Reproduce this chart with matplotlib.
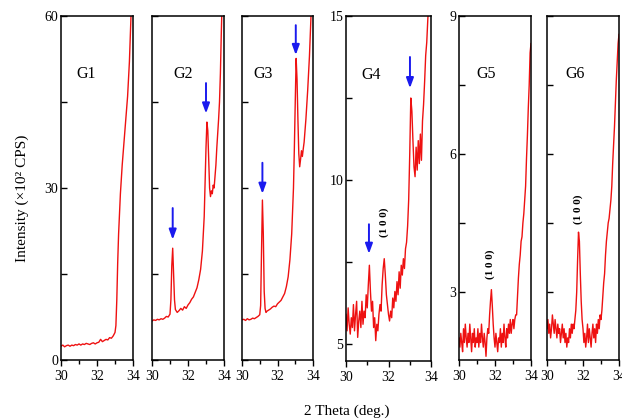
import matplotlib
matplotlib.use("Agg")
import matplotlib.pyplot as plt
from matplotlib.ticker import FixedLocator, NullFormatter

plt.rcParams["font.family"] = ["Liberation Serif", "DejaVu Serif"]
plt.rcParams["font.size"] = 10

RED = "#ee1111"
BLUE = "#1a1aee"

# ---- data (2 theta in deg, intensity in 10^2 CPS) ----
g1_x = [30.0, 30.1, 30.2, 30.3, 30.4, 30.5, 30.6, 30.7, 30.8, 30.9,
        31.0, 31.1, 31.2, 31.3, 31.4, 31.5, 31.6, 31.7, 31.8, 31.9,
        32.0, 32.1, 32.2, 32.3, 32.4, 32.5, 32.6, 32.7, 32.8, 32.9,
        33.0, 33.05, 33.1, 33.15, 33.2, 33.3, 33.4, 33.5, 33.6, 33.7,
        33.8, 33.9, 34.0]
g1_y = [2.4, 2.6, 2.3, 2.5, 2.6, 2.4, 2.6, 2.5, 2.7, 2.6,
        2.8, 2.6, 2.8, 2.7, 2.9, 2.8, 2.7, 2.9, 3.0, 2.8,
        3.0, 3.1, 3.6, 3.2, 3.4, 3.6, 3.5, 3.9, 3.8, 4.2,
        4.8, 6.0, 10.5, 17.0, 22.0, 29.0, 34.0, 38.0, 42.0, 46.0,
        52.0, 61.0, 68.0]

g2_x = [30.0, 30.1, 30.2, 30.3, 30.4, 30.5, 30.6, 30.7, 30.8, 30.9,
        31.0, 31.05, 31.1, 31.15, 31.2, 31.25, 31.3, 31.4, 31.5, 31.6,
        31.7, 31.8, 31.9, 32.0, 32.1, 32.2, 32.3, 32.4, 32.5, 32.6,
        32.7, 32.8, 32.9, 32.95, 33.0, 33.05, 33.1, 33.15, 33.2, 33.25,
        33.3, 33.35, 33.4, 33.45, 33.5, 33.55, 33.6, 33.65, 33.7, 33.75,
        33.8, 33.85, 33.9, 34.0]
g2_y = [6.8, 7.0, 6.9, 7.1, 7.0, 7.2, 7.1, 7.3, 7.6, 7.5,
        8.0, 10.5, 16.5, 19.5, 15.0, 10.5, 8.8, 8.3, 8.6, 9.0,
        8.7, 9.3, 9.0, 9.6, 10.0, 10.6, 11.0, 11.8, 12.6, 14.0,
        15.8, 19.0, 25.0, 31.0, 37.0, 41.5, 40.0, 35.0, 30.0, 28.5,
        29.5, 29.0, 30.5, 30.0, 32.0, 34.0, 37.0, 39.5, 42.0, 45.0,
        50.0, 57.0, 63.0, 70.0]

g3_x = [30.0, 30.1, 30.2, 30.3, 30.4, 30.5, 30.6, 30.7, 30.8, 30.9,
        31.0, 31.05, 31.1, 31.15, 31.2, 31.25, 31.3, 31.35, 31.4, 31.5,
        31.6, 31.7, 31.8, 31.9, 32.0, 32.1, 32.2, 32.3, 32.4, 32.5,
        32.6, 32.7, 32.8, 32.9, 32.95, 33.0, 33.05, 33.1, 33.15, 33.2,
        33.25, 33.3, 33.35, 33.4, 33.45, 33.5, 33.55, 33.6, 33.7, 33.8,
        33.85, 33.9, 34.0]
g3_y = [7.0, 7.1, 6.9, 7.2, 7.0, 7.1, 7.3, 7.2, 7.4, 7.6,
        7.9, 9.5, 19.0, 27.9, 22.0, 12.0, 9.0, 8.3, 8.5, 8.7,
        8.9, 9.2, 9.4, 9.3, 9.8, 10.1, 10.4, 11.0, 11.6, 12.8,
        14.5, 17.5, 22.0, 30.0, 37.0, 45.0, 52.6, 49.0, 42.0, 36.0,
        33.7, 35.0, 36.5, 35.5, 36.8, 38.0, 40.0, 42.0, 47.0, 53.0,
        57.0, 61.0, 68.0]

# G4-G6 are sampled every 0.05 deg
fine_x = [30.00, 30.05, 30.10, 30.15, 30.20, 30.25, 30.30, 30.35, 30.40, 30.45,
          30.50, 30.55, 30.60, 30.65, 30.70, 30.75, 30.80, 30.85, 30.90, 30.95,
          31.00, 31.05, 31.10, 31.15, 31.20, 31.25, 31.30, 31.35, 31.40, 31.45,
          31.50, 31.55, 31.60, 31.65, 31.70, 31.75, 31.80, 31.85, 31.90, 31.95,
          32.00, 32.05, 32.10, 32.15, 32.20, 32.25, 32.30, 32.35, 32.40, 32.45,
          32.50, 32.55, 32.60, 32.65, 32.70, 32.75, 32.80, 32.85, 32.90, 32.95,
          33.00, 33.05, 33.10, 33.15, 33.20, 33.25, 33.30, 33.35, 33.40, 33.45,
          33.50, 33.55, 33.60, 33.65, 33.70, 33.75, 33.80, 33.85, 33.90, 33.95,
          34.00]
g4_y = [5.9, 5.4, 6.1, 5.6, 5.3, 5.8, 5.5, 6.2, 5.4, 5.9,
        6.3, 5.2, 5.7, 6.0, 5.5, 6.3, 5.6, 6.0, 5.8, 6.5,
        6.1, 6.8, 7.4, 6.6, 6.0, 6.3, 5.5, 5.8, 5.1, 5.6,
        5.4, 5.9, 6.2, 6.0, 6.8, 7.3, 7.6, 7.1, 6.5, 6.2,
        5.9, 5.7, 6.0, 5.8, 6.4, 6.1, 6.6, 6.3, 6.9, 6.5,
        7.2, 6.7, 7.4, 7.1, 7.6, 7.3, 7.9, 8.1, 8.6, 9.4,
        10.8, 12.5, 12.1, 11.2, 10.4, 10.1, 11.0, 10.3, 11.2, 10.5,
        11.4, 10.6, 11.8, 12.3, 13.0, 13.8, 14.2, 14.9, 15.4, 16.0,
        16.5]
g5_y = [2.0, 1.8, 2.1, 1.9, 1.7, 2.2, 1.9, 2.3, 2.0, 1.8,
        2.1, 1.9, 2.3, 2.0, 1.7, 2.1, 1.9, 2.2, 1.8, 2.0,
        1.9, 2.2, 1.8, 2.1, 1.9, 2.3, 2.0, 1.8, 2.1, 1.9,
        1.6, 2.0, 2.2, 2.1, 2.5, 2.8, 3.05, 2.7, 2.3, 2.0,
        1.8, 2.1, 1.9, 1.7, 2.0, 1.9, 2.2, 1.8, 2.1, 1.9,
        2.3, 2.0, 1.8, 2.2, 2.0, 2.3, 2.1, 2.4, 2.1, 2.3,
        2.4, 2.2, 2.4, 2.5, 2.5, 2.9, 3.3, 3.6, 3.8, 4.1,
        4.2, 4.5, 4.7, 5.0, 5.3, 5.9, 6.4, 7.0, 7.5, 8.2,
        8.4]
g6_y = [2.2, 2.4, 2.1, 2.3, 2.0, 2.2, 2.5, 2.3, 2.1, 2.4,
        2.2, 2.0, 2.3, 2.1, 2.2, 1.9, 2.1, 2.3, 2.0, 2.2,
        1.9, 2.1, 1.8, 2.0, 1.9, 2.2, 2.0, 2.3, 2.1, 2.3,
        2.2, 2.4, 2.6, 3.0, 3.7, 4.3, 4.1, 3.4, 2.8, 2.4,
        2.2, 1.9, 2.1, 1.8, 2.0, 2.3, 1.9, 2.2, 2.0, 1.8,
        2.1, 2.3, 2.0, 2.2, 1.9, 2.3, 2.1, 2.4, 2.2, 2.5,
        2.4, 2.6, 2.9, 3.2, 3.4, 3.8, 4.1, 4.3, 4.5, 4.6,
        4.8, 5.0, 5.3, 5.8, 6.2, 6.6, 7.1, 7.6, 8.0, 8.4,
        8.6]

names = ["G1", "G2", "G3", "G4", "G5", "G6"]
xs = [g1_x, g2_x, g3_x, fine_x, fine_x, fine_x]
ys = [g1_y, g2_y, g3_y, g4_y, g5_y, g6_y]

# arrows: (panel, x, tail y, head y)
arrows = [(1, 31.15, 26.5, 21.0), (1, 33.0, 48.3, 43.0),
          (2, 31.15, 34.4, 29.0), (2, 33.03, 58.4, 53.2),
          (3, 31.08, 8.65, 7.75), (3, 33.01, 13.75, 12.8)]
# (1 0 0) labels: (panel, x, y)
hkl = [(3, 31.78, 8.7), (4, 31.72, 3.6), (5, 31.74, 4.8)]

# ---- layout, in pixels of the 622x420 picture ----
boxes = [(61, 72, 360), (152, 72, 360), (242, 71, 360),
         (346, 85, 361), (459, 72, 360), (547, 72, 360)]
ylims = [(0, 60), (0, 60), (0, 60), (4.48, 15), (1.52, 9), (1.52, 9)]
yticks = [[0, 30, 60], [0, 30, 60], [0, 30, 60], [5, 10, 15], [3, 6, 9], [3, 6, 9]]
yminor = [[15, 45], [15, 45], [15, 45], [7.5, 12.5], [4.5, 7.5], [4.5, 7.5]]
show_ylab = [True, False, False, True, True, False]
name_pos = [0.35, 0.43, 0.30, 0.30, 0.38, 0.39]

W, H = 622, 420
fig = plt.figure(figsize=(W / 100, H / 100), dpi=100)
axes = []
for i, (left, width, bottom) in enumerate(boxes):
    ax = fig.add_axes([left / W, 1 - bottom / H, width / W, (bottom - 16) / H])
    ax.plot(xs[i], ys[i], color=RED, lw=1.0)
    ax.set_xlim(30, 34)
    ax.set_ylim(*ylims[i])
    ax.set_xticks([30, 32, 34])
    ax.xaxis.set_minor_locator(FixedLocator([31, 33]))
    ax.set_yticks(yticks[i])
    ax.yaxis.set_minor_locator(FixedLocator(yminor[i]))
    if not show_ylab[i]:
        ax.yaxis.set_major_formatter(NullFormatter())
    ax.tick_params(axis="x", which="major", direction="out", length=4, width=1, pad=3)
    ax.tick_params(axis="x", which="minor", direction="out", length=3, width=1)
    ax.tick_params(axis="y", which="both", direction="in", length=4.5, width=1, pad=2)
    for s in ax.spines.values():
        s.set_linewidth(1.1)
    ax.text(name_pos[i], 0.83, names[i], transform=ax.transAxes, fontsize=11.5,
            ha="center", va="center")
    axes.append(ax)

for p, x, y0, y1 in arrows:
    axes[p].annotate("", xy=(x, y1), xytext=(x, y0),
                     arrowprops=dict(arrowstyle="-|>,head_length=0.6,head_width=0.22",
                                     color=BLUE, lw=1.4, shrinkA=0, shrinkB=0))

for p, x, y in hkl:
    axes[p].text(x, y, "(1 0 0)", rotation=90, fontsize=8, fontweight="bold",
                 ha="center", va="center")

fig.text(22 / W, 1 - 198 / H, "Intensity (×10² CPS)", rotation=90,
         ha="center", va="center", fontsize=11)
fig.text(347 / W, 1 - 411 / H, "2 Theta (deg.)", ha="center", va="center",
         fontsize=11)

fig.savefig("out.png", dpi=100)
